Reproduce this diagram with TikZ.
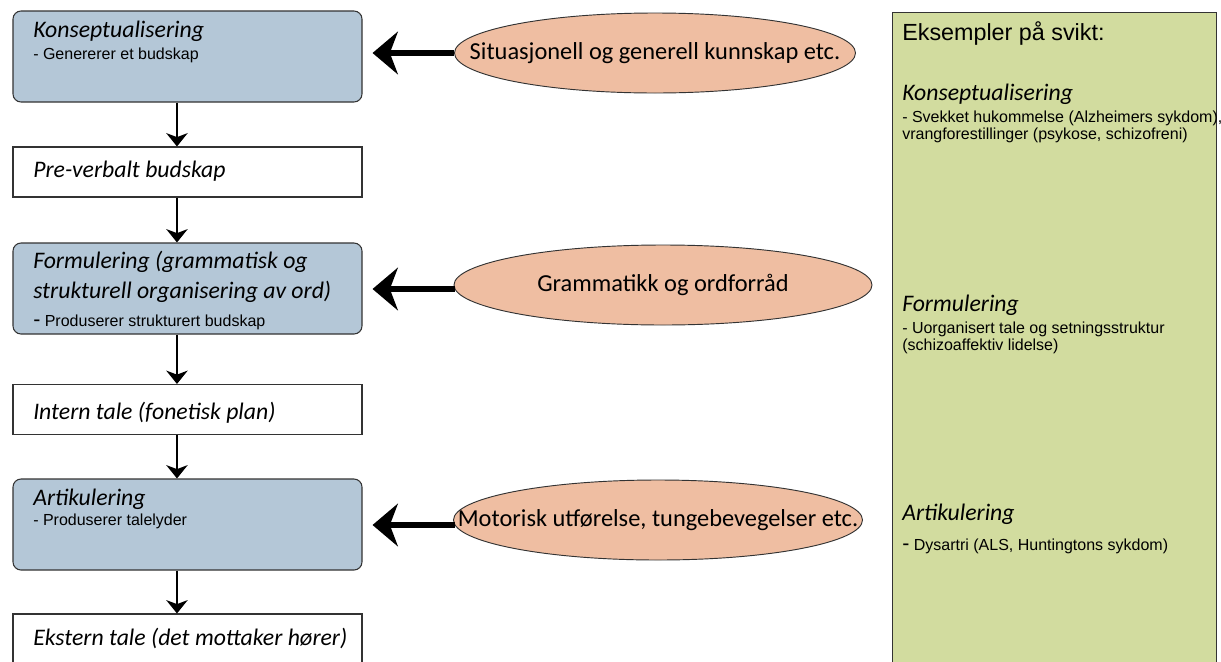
\documentclass[tikz,border=0pt]{standalone}
\usepackage{fontspec}
\setmainfont{Liberation Sans}
\newfontfamily\myriad{Carlito}
\usetikzlibrary{shapes.geometric,arrows.meta,positioning}

\definecolor{stageblue}{HTML}{B4C7D7}
\definecolor{ovalrose}{HTML}{EFBEA2}
\definecolor{failgreen}{HTML}{D2DC9F}

\tikzset{
  stage/.style={rectangle,draw=black!80,line width=0.8pt,minimum width=261.75pt,inner sep=0pt},
  process/.style={stage,rounded corners=6pt,fill=stageblue,minimum height=68.25pt},
  product/.style={stage,fill=white,minimum height=37.5pt},
  source/.style={ellipse,draw=black!80,line width=0.7pt,fill=ovalrose,minimum height=60pt,inner sep=0pt},
  ovaltext/.style={inner sep=0pt,font=\myriad\fontsize{18.3}{22}\selectfont},
  head/.style={anchor=base west,inner sep=0pt,font=\myriad\itshape\fontsize{17.8}{22.5}\selectfont,align=left},
  note/.style={anchor=base west,inner sep=0pt,font=\fontsize{12}{12.5}\selectfont,align=left},
  flow/.style={line width=2pt,-{Stealth[length=10pt,width=16pt,inset=3pt]}},
  feed/.style={line width=4.5pt,-{Stealth[length=19pt,width=32pt,inset=6pt]}}
}

\begin{document}
\begin{tikzpicture}[x=0.75pt,y=-0.75pt]
  \useasboundingbox (0,0) rectangle (1221,661);

  % production stages
  \node[process] (k1) at (187.5,56.5) {};
  \node[product] (pv) at (187.5,172) {};
  \node[process] (f1) at (187.5,288.5) {};
  \node[product] (it) at (187.5,409.5) {};
  \node[process] (a1) at (187.5,524.5) {};
  \node[product,minimum height=60pt] (et) at (187.5,654) {};

  \node[head] (k1h) at (33,37) {Konseptualisering};
  \node[note] (k1n) at (33,59) {- Genererer et budskap};
  \node[head] (pvh) at (33,177) {Pre-verbalt budskap};
  \node[head] (f1h) at (33,298) {Formulering (grammatisk og\\strukturell organisering av ord)};
  \node[note] (f1n) at (33,326) {{\fontsize{16}{16}\selectfont -} Produserer strukturert budskap};
  \node[head] (ith) at (33,419) {Intern tale (fonetisk plan)};
  \node[head] (a1h) at (33,505) {Artikulering};
  \node[note] (a1n) at (33,525) {- Produserer talelyder};
  \node[head] (eth) at (33,645) {Ekstern tale (det mottaker hører)};

  \foreach \a/\b in {k1/pv,pv/f1,f1/it,it/a1,a1/et}
    \draw[flow] ([xshift=-7.9pt]\a.south) -- ([xshift=-7.9pt]\b.north);

  % inputs
  \node[source,minimum width=300.75pt,label={[ovaltext]center:Situasjonell og generell kunnskap etc.}] (s1) at (655,53) {};
  \node[source,minimum width=313.5pt,label={[ovaltext]center:Grammatikk og ordforråd}] (s2) at (663,285) {};
  \node[source,minimum width=306.75pt,label={[ovaltext]center:Motorisk utførelse, tungebevegelser etc.}] (s3) at (658,520) {};

  \draw[feed] (s1.west) -- ([xshift=7.5pt]k1.east |- s1.west);
  \draw[feed] ([xshift=1pt,yshift=-3pt]s2.west) -- ([xshift=7.5pt,yshift=-3pt]f1.east |- s2.west);
  \draw[feed] ([xshift=1.5pt,yshift=-3.75pt]s3.west) -- ([xshift=7.5pt,yshift=-3.75pt]a1.east |- s3.west);

  % examples of failure
  \node[draw=black!80,line width=0.8pt,fill=failgreen,anchor=north west,
        minimum width=243pt,minimum height=520pt,inner sep=0pt] (ex) at (892,12) {};
  \node[note,font=\fontsize{17.5}{20}\selectfont] (exh) at (902,40) {Eksempler på svikt:};
  \node[head] (xk) at (902,100) {Konseptualisering};
  \node[note] (xkn) at (902,139) {- Svekket hukommelse (Alzheimers sykdom),\\vrangforestillinger (psykose, schizofreni)};
  \node[head] (xf) at (902,311) {Formulering};
  \node[note] (xfn) at (902,350) {- Uorganisert tale og setningsstruktur\\(schizoaffektiv lidelse)};
  \node[head] (xa) at (902,520) {Artikulering};
  \node[note] (xan) at (902,550) {{\fontsize{16}{16}\selectfont -} Dysartri (ALS, Huntingtons sykdom)};
\end{tikzpicture}
\end{document}
